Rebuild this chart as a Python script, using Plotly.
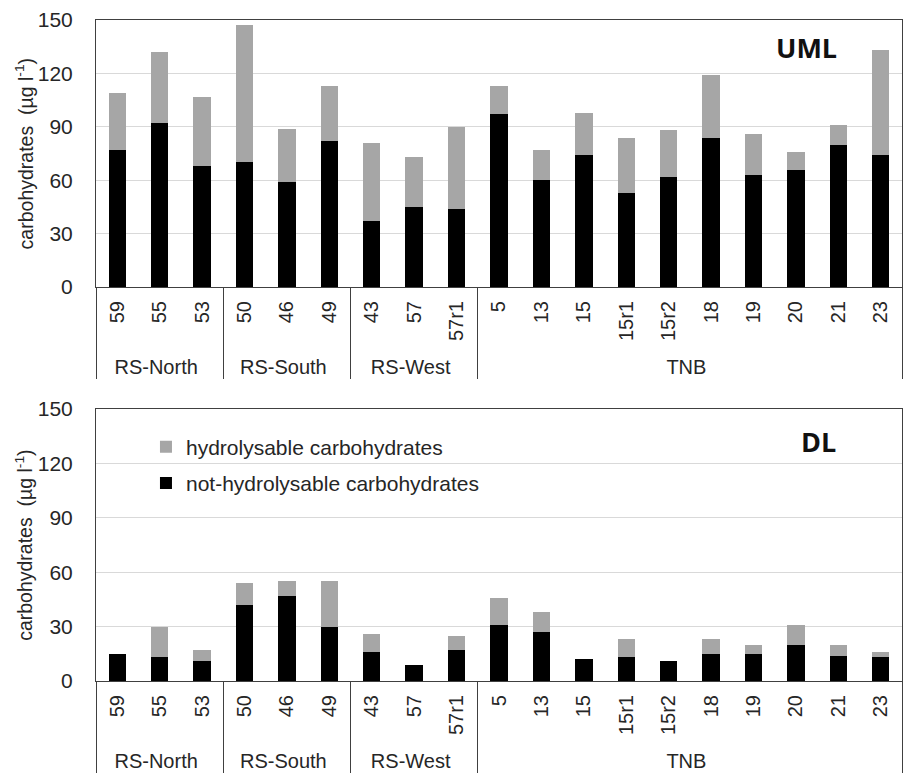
import plotly.graph_objects as go
from plotly.subplots import make_subplots

# Sampling stations and the region each belongs to
regions = ["RS-North"] * 3 + ["RS-South"] * 3 + ["RS-West"] * 3 + ["TNB"] * 10
stations = ["59", "55", "53", "50", "46", "49", "43", "57", "57r1",
            "5", "13", "15", "15r1", "15r2", "18", "19", "20", "21", "23"]

# Upper mixed layer (µg l-1)
uml_not_hydrolysable = [77, 92, 68, 70, 59, 82, 37, 45, 44,
                        97, 60, 74, 53, 62, 84, 63, 66, 80, 74]
uml_hydrolysable = [32, 40, 39, 77, 30, 31, 44, 28, 46,
                    16, 17, 24, 31, 26, 35, 23, 10, 11, 59]

# Deep layer (µg l-1)
dl_not_hydrolysable = [15, 13, 11, 42, 47, 30, 16, 9, 17,
                       31, 27, 12, 13, 11, 15, 15, 20, 14, 13]
dl_hydrolysable = [0, 17, 6, 12, 8, 25, 10, 0, 8,
                   15, 11, 0, 10, 0, 8, 5, 11, 6, 3]

y_ticks = [0, 30, 60, 90, 120, 150]

BLACK = "#000000"
GREY = "#a6a6a6"
LINE = "#404040"
GRID = "#d9d9d9"
TEXT = "#262626"
FONT = "Liberation Sans, Arial, sans-serif"

TOP_DOMAIN = [0.596, 1.0]
BOTTOM_DOMAIN = [0.0, 0.4115]

fig = make_subplots(rows=2, cols=1, vertical_spacing=0.0)

x_multi = [regions, stations]

panels = [
    (1, uml_not_hydrolysable, uml_hydrolysable),
    (2, dl_not_hydrolysable, dl_hydrolysable),
]
for row, not_h, hyd in panels:
    fig.add_trace(go.Bar(x=x_multi, y=not_h, name="not-hydrolysable carbohydrates",
                         marker=dict(color=BLACK, line=dict(width=0)),
                         legendgroup="not_hydrolysable", legendrank=2,
                         showlegend=(row == 2)), row=row, col=1)
    fig.add_trace(go.Bar(x=x_multi, y=hyd, name="hydrolysable carbohydrates",
                         marker=dict(color=GREY, line=dict(width=0)),
                         legendgroup="hydrolysable", legendrank=1,
                         showlegend=(row == 2)), row=row, col=1)

axis_x = dict(
    type="multicategory",
    tickangle=-90,
    tickfont=dict(family=FONT, size=20, color=TEXT),
    ticklabelstandoff=5,
    showline=True, linecolor=LINE, linewidth=1, mirror=True,
    showgrid=False, ticks="",
    showdividers=True, dividercolor=LINE, dividerwidth=1,
    range=[-0.5, 18.5],
)
axis_y = dict(
    range=[0, 150], tickvals=y_ticks,
    tickfont=dict(family=FONT, size=21, color=TEXT),
    showline=True, linecolor=LINE, linewidth=1, mirror=True,
    showgrid=True, gridcolor=GRID, gridwidth=1,
    zeroline=False, ticks="", ticklabelstandoff=18,
)

fig.update_xaxes(**axis_x)
fig.update_yaxes(**axis_y)
fig.update_yaxes(domain=TOP_DOMAIN, row=1, col=1)
fig.update_yaxes(domain=BOTTOM_DOMAIN, row=2, col=1)

# Vertical y-axis titles, one per panel
for dom in (TOP_DOMAIN, BOTTOM_DOMAIN):
    fig.add_annotation(text="carbohydrates  (µg l<sup>-1</sup>)", textangle=-90,
                       xref="paper", yref="paper", x=-0.0895, y=(dom[0] + dom[1]) / 2,
                       xanchor="center", yanchor="middle", showarrow=False,
                       font=dict(family=FONT, size=19.5, color=TEXT))

fig.add_annotation(text="<b>UML</b>", xref="paper", yref="paper", x=0.882, y=0.958,
                   xanchor="center", yanchor="middle",
                   showarrow=False, font=dict(family="Open Sans", size=27, color="#111111"))
fig.add_annotation(text="<b>DL</b>", xref="paper", yref="paper", x=0.896, y=0.362,
                   xanchor="center", yanchor="middle",
                   showarrow=False, font=dict(family="Open Sans", size=27, color="#111111"))

fig.update_layout(
    width=905, height=776,
    margin=dict(l=96, r=3, t=20, b=95),
    barmode="stack", bargap=0.59,
    plot_bgcolor="white", paper_bgcolor="white",
    font=dict(family=FONT, color=TEXT),
    legend=dict(x=0.062, y=0.385, xanchor="left", yanchor="top",
                traceorder="grouped", tracegroupgap=6,
                font=dict(family=FONT, size=21, color=TEXT),
                bgcolor="rgba(0,0,0,0)"),
)

fig.write_html("out.html")
